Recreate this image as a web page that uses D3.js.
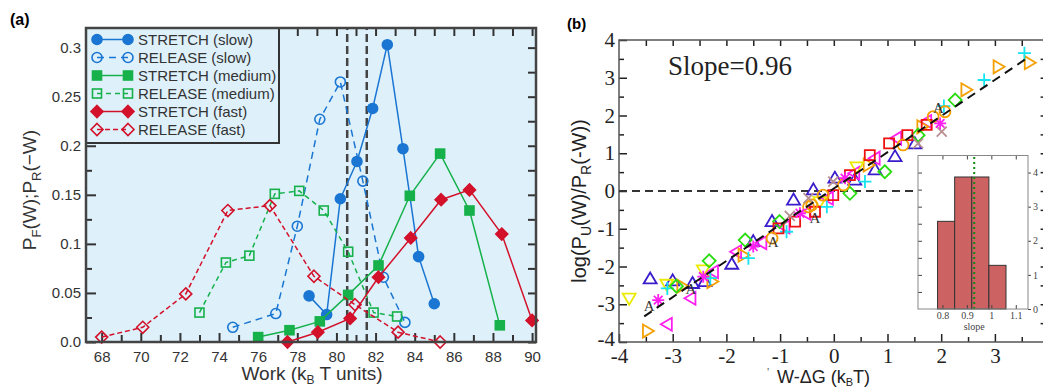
<!DOCTYPE html>
<html>
<head>
<meta charset="utf-8">
<script src="https://cdn.jsdelivr.net/npm/d3@7"></script>
<style>
  body { margin: 0; background: #fff; }
  svg { display: block; }
</style>
</head>
<body>
<script>
// ---------- panel (a): [work (kBT), probability]
const stretchSlow = [[78.6,0.047],[79.5,0.028],[80.2,0.146],[81.05,0.184],[81.85,0.238],[82.6,0.303],[83.4,0.197],[84.2,0.087],[85.0,0.039]];
const releaseSlow = [[74.7,0.015],[76.9,0.029],[78.0,0.118],[79.15,0.227],[80.2,0.265],[81.35,0.164],[82.4,0.066],[83.5,0.02]];
const stretchMedium = [[76.0,0.005],[77.6,0.012],[79.15,0.021],[80.6,0.048],[82.15,0.078],[83.75,0.149],[85.3,0.192],[86.8,0.134],[88.35,0.017]];
const releaseMedium = [[73.0,0.030],[74.35,0.081],[75.55,0.088],[76.85,0.151],[78.1,0.154],[79.35,0.134],[80.6,0.092],[81.9,0.030],[83.1,0.026]];
const stretchFast = [[77.5,0.0],[79.05,0.010],[80.7,0.024],[82.15,0.066],[83.8,0.106],[85.35,0.145],[86.8,0.155],[88.45,0.110],[90.0,0.022]];
const releaseFast = [[68.0,0.005],[70.1,0.015],[72.3,0.049],[74.45,0.134],[76.6,0.139],[78.85,0.067],[80.95,0.038],[83.15,0.010],[85.3,0.0]];
const legendNames = ['STRETCH (slow)','RELEASE (slow)','STRETCH (medium)','RELEASE (medium)','STRETCH (fast)','RELEASE (fast)'];
const dashedMarks = [80.55, 81.55];
const xTicksA = [68,70,72,74,76,78,80,82,84,86,88,90];
const yTicksA = [0,0.05,0.1,0.15,0.2,0.25,0.3];
const yLabelsA = ['0.0','0.05','0.1','0.15','0.2','0.25','0.3'];

// ---------- panel (b): [W-dG, log ratio]
const blueTri = [[-3.42,-2.33],[-3.0,-2.38],[-2.63,-2.45],[-2.4,-2.4],[-1.9,-1.94],[-1.5,-1.34],[-1.15,-0.81],[-0.75,-0.24],[-0.38,0.03],[0.02,0.34],[0.39,0.29],[0.77,0.56],[1.14,0.91],[1.51,1.25]];
const magentaLeft = [[-3.1,-3.53],[-2.66,-2.84],[-2.24,-2.14],[-1.81,-1.61],[-1.34,-1.37],[-0.91,-0.95],[-0.52,-0.59],[-0.1,-0.19],[0.39,0.47],[0.77,0.87],[1.17,1.4],[1.73,1.84]];
const orangeRight = [[-3.47,-3.71],[-2.83,-2.52],[-2.27,-2.4],[-1.69,-1.7],[0.64,0.69],[1.64,1.7],[2.46,2.68],[3.06,3.29],[3.64,3.4]];
const yellowDown = [[-3.81,-2.84],[-3.11,-2.47],[-2.43,-2.09],[-0.26,-0.28],[0.43,0.64]];
const cyanPlus = [[-3.1,-2.58],[-2.3,-2.31],[-1.59,-1.78],[-0.88,-1.08],[-0.13,-0.42],[0.58,0.25],[2.05,2.25],[2.8,2.94],[3.55,3.65]];
const magentaStar = [[-3.27,-2.89],[-2.43,-2.27],[-1.5,-1.47],[-0.63,-0.59],[0.21,0.34],[1.98,1.79]];
const greenDiamond = [[-2.93,-2.52],[-2.32,-1.85],[-1.65,-1.3],[-1.01,-0.81],[0.3,-0.06],[0.95,0.51],[1.57,1.48],[2.26,2.41]];
const redSquare = [[-1.03,-0.99],[-0.72,-0.81],[-0.35,-0.55],[-0.01,-0.11],[0.3,0.42],[0.67,0.95],[1.03,1.26],[1.37,1.48],[1.73,1.75]];
const orangeCircle = [[-1.15,-1.25],[-0.47,-0.42],[-0.41,-0.37],[-0.2,-0.11],[0.18,0.16],[1.29,1.22],[1.85,1.97],[2.07,2.1]];
const grayCross = [[-0.82,-0.66],[-0.47,-0.19],[-0.01,0.25],[1.57,1.26],[2.01,1.57]];
const letterA = [[-3.44,-3.05],[-2.66,-2.6],[-1.13,-1.34],[-0.35,-0.72],[1.95,2.19]];
const fitLine = [[-3.53,-3.32],[3.6,3.52]];
const xTicksB = [-4,-3,-2,-1,0,1,2,3];   // the "4" label falls outside the picture
const yTicksB = [-4,-3,-2,-1,0,1,2,3,4];

// inset histogram of slopes
const binEdges = [0.78,0.85,0.92,0.99,1.06];
const binHeights = [2.57,3.87,3.87,1.28];
const meanSlope = 0.93;
const insetXTicks = [0.8,0.9,1,1.1];
const insetYTicks = [0,1,2,3,4];

const svg = d3.select('body').append('svg')
  .attr('width', 1043).attr('height', 388);

const SANS = '"Liberation Sans", Arial, sans-serif';
const SERIF = '"Liberation Serif", "Times New Roman", serif';

function styleAxis(g, color, width, font, size) {
  g.select('.domain').remove();
  g.attr('font-family', font).attr('font-size', size);
  g.selectAll('line').attr('stroke', color).attr('stroke-width', width);
  g.selectAll('text').attr('fill', color);
}

// ================= panel (a)
const xA = d3.scaleLinear().domain([67.2, 90.2]).range([86, 536]);
const yA = d3.scaleLinear().domain([0, 0.32]).range([342, 28]);
const pa = svg.append('g');

pa.append('rect')
  .attr('x', 86).attr('y', 28).attr('width', 450).attr('height', 314)
  .attr('fill', '#def1fb');

pa.append('g').attr('transform', 'translate(0,342)')
  .call(d3.axisBottom(xA).tickValues(xTicksA).tickSize(-9).tickPadding(9))
  .call(g => styleAxis(g, '#333', 2, SANS, 15));
pa.append('g').attr('transform', 'translate(0,342)')
  .call(d3.axisBottom(xA).tickValues(d3.range(69, 90, 2)).tickSize(-7).tickFormat(''))
  .call(g => styleAxis(g, '#333', 2, SANS, 15));
pa.append('g').attr('transform', 'translate(0,28)')
  .call(d3.axisTop(xA).tickValues(d3.range(68, 91, 1)).tickSize(-8).tickFormat(''))
  .call(g => styleAxis(g, '#333', 2, SANS, 15));
pa.append('g').attr('transform', 'translate(86,0)')
  .call(d3.axisLeft(yA).tickValues(yTicksA).tickSize(-10).tickPadding(5)
    .tickFormat((d, i) => yLabelsA[i]))
  .call(g => styleAxis(g, '#333', 2, SANS, 15));
pa.append('g').attr('transform', 'translate(86,0)')
  .call(d3.axisLeft(yA).tickValues(d3.range(0.025, 0.32, 0.05)).tickSize(-6).tickFormat(''))
  .call(g => styleAxis(g, '#333', 2, SANS, 15));
pa.append('g').attr('transform', 'translate(536,0)')
  .call(d3.axisRight(yA).tickValues(d3.range(0, 0.32, 0.025)).tickSize(-8).tickFormat(''))
  .call(g => styleAxis(g, '#333', 2, SANS, 15));

// vertical dashed markers
pa.selectAll('line.vmark').data(dashedMarks).join('line')
  .attr('x1', d => xA(d)).attr('x2', d => xA(d))
  .attr('y1', yA(0)).attr('y2', yA(0.32))
  .attr('stroke', '#444').attr('stroke-width', 2.5).attr('stroke-dasharray', '8,4');

const BLUE = '#1a76d2', GREEN = '#16b14a', RED = '#d3112a';
const seriesA = [
  { data: stretchSlow, color: BLUE, shape: 'circle', filled: true, dash: null },
  { data: releaseSlow, color: BLUE, shape: 'circle', filled: false, dash: '7,5' },
  { data: stretchMedium, color: GREEN, shape: 'square', filled: true, dash: null },
  { data: releaseMedium, color: GREEN, shape: 'square', filled: false, dash: '5,4' },
  { data: stretchFast, color: RED, shape: 'diamond', filled: true, dash: null },
  { data: releaseFast, color: RED, shape: 'diamond', filled: false, dash: '5,3' }
];

function markA(sel, s) {
  let m;
  if (s.shape === 'circle') m = sel.append('circle').attr('r', 5);
  else if (s.shape === 'square') m = sel.append('rect').attr('x', -4.5).attr('y', -4.5).attr('width', 9).attr('height', 9);
  else m = sel.append('path').attr('d', 'M0,-6L6,0L0,6L-6,0Z');
  m.attr('fill', s.filled ? s.color : 'none').attr('stroke', s.color).attr('stroke-width', 1.6);
}

const lineA = d3.line().x(d => xA(d[0])).y(d => yA(d[1]));
seriesA.forEach(s => {
  pa.append('path').datum(s.data)
    .attr('d', lineA).attr('fill', 'none')
    .attr('stroke', s.color).attr('stroke-width', 1.5)
    .attr('stroke-dasharray', s.dash);
  pa.append('g').selectAll('g').data(s.data).join('g')
    .attr('transform', d => `translate(${xA(d[0])},${yA(d[1])})`)
    .each(function () { markA(d3.select(this), s); });
});

// legend
const lg = pa.append('g');
lg.append('rect').attr('x', 86).attr('y', 28).attr('width', 193).attr('height', 115)
  .attr('fill', '#def1fb').attr('stroke', '#333').attr('stroke-width', 2);
seriesA.forEach((s, i) => {
  const y = 39.5 + i * 18;
  lg.append('line').attr('x1', 97).attr('x2', 128).attr('y1', y).attr('y2', y)
    .attr('stroke', s.color).attr('stroke-width', 1.5).attr('stroke-dasharray', s.dash);
  [97, 128].forEach(x => markA(lg.append('g').attr('transform', `translate(${x},${y})`), s));
  lg.append('text').attr('x', 138).attr('y', y + 5.5)
    .attr('font-family', SANS).attr('font-size', 15).attr('fill', '#333')
    .text(legendNames[i]);
});

// frame
pa.append('rect').attr('x', 86).attr('y', 28).attr('width', 450).attr('height', 314)
  .attr('fill', 'none').attr('stroke', '#444').attr('stroke-width', 2.5);

pa.append('text').attr('x', 10).attr('y', 25)
  .attr('font-family', SANS).attr('font-size', 16).attr('font-weight', 'bold').text('(a)');

const xlA = pa.append('text').attr('x', 312).attr('y', 380).attr('text-anchor', 'middle')
  .attr('font-family', SANS).attr('font-size', 19).attr('fill', '#333');
xlA.append('tspan').text('Work (k');
xlA.append('tspan').attr('font-size', 12).attr('dy', 4).text('B');
xlA.append('tspan').attr('dy', -4).text(' T units)');

const ylA = pa.append('text').attr('transform', 'translate(36,190) rotate(-90)')
  .attr('text-anchor', 'middle')
  .attr('font-family', SANS).attr('font-size', 19).attr('fill', '#333');
ylA.append('tspan').text('P');
ylA.append('tspan').attr('font-size', 13).attr('dy', 5).text('F');
ylA.append('tspan').attr('dy', -5).text('(W);P');
ylA.append('tspan').attr('font-size', 13).attr('dy', 5).text('R');
ylA.append('tspan').attr('dy', -5).text('(\u2212W)');

// ================= panel (b)
const xB = d3.scaleLinear().domain([-4, 4]).range([619, 1048.6]);
const yB = d3.scaleLinear().domain([-4, 4]).range([342, 40]);
const pb = svg.append('g');

const fmtB = d => String(d);
pb.append('g').attr('transform', 'translate(0,342)')
  .call(d3.axisBottom(xB).tickValues(xTicksB).tickSize(-8).tickPadding(6).tickFormat(fmtB))
  .call(g => styleAxis(g, '#222', 1.5, SERIF, 21));
pb.append('g').attr('transform', 'translate(0,342)')
  .call(d3.axisBottom(xB).tickValues(d3.range(-3.5, 4, 1)).tickSize(-5).tickFormat(''))
  .call(g => styleAxis(g, '#222', 1.5, SERIF, 21));
pb.append('g').attr('transform', 'translate(0,40)')
  .call(d3.axisTop(xB).tickValues(d3.range(-3.5, 4, 0.5)).tickSize(-6).tickFormat(''))
  .call(g => styleAxis(g, '#222', 1.5, SERIF, 21));
pb.append('g').attr('transform', 'translate(619,0)')
  .call(d3.axisLeft(yB).tickValues(yTicksB).tickSize(-8).tickPadding(4).tickFormat(fmtB))
  .call(g => styleAxis(g, '#222', 1.5, SERIF, 21))
  .call(g => g.selectAll('text').filter(d => d === -4).attr('dy', '0.15em'));
pb.append('g').attr('transform', 'translate(619,0)')
  .call(d3.axisLeft(yB).tickValues(d3.range(-3.5, 4, 1)).tickSize(-5).tickFormat(''))
  .call(g => styleAxis(g, '#222', 1.5, SERIF, 21));
pb.append('g').attr('transform', 'translate(1048.6,0)')
  .call(d3.axisRight(yB).tickValues(d3.range(-3.5, 4, 0.5)).tickSize(-8).tickFormat(''))
  .call(g => styleAxis(g, '#222', 1.5, SERIF, 21));

pb.append('rect').attr('x', 619).attr('y', 40).attr('width', 429.6).attr('height', 302)
  .attr('fill', 'none').attr('stroke', '#555').attr('stroke-width', 1.5);

// inset scales (needed for zero line end)
const ix = d3.scaleLinear().domain([0.7, 1.15]).range([918, 1028]);
const iy = d3.scaleLinear().domain([0, 4.5]).range([309, 155.5]);

// zero line
pb.append('line').attr('x1', xB(-4)).attr('x2', ix.range()[0])
  .attr('y1', yB(0)).attr('y2', yB(0))
  .attr('stroke', '#333').attr('stroke-width', 2).attr('stroke-dasharray', '8,5');

const sym = {
  triUp: 'M0,-6.5L6.5,4.5L-6.5,4.5Z',
  square: 'M-5,-5H5V5H-5Z',
  diamond: 'M0,-6.5L6.5,0L0,6.5L-6.5,0Z',
  plus: 'M-6.5,0H6.5M0,-6.5V6.5',
  cross: 'M-5,-5L5,5M5,-5L-5,5',
  star: 'M-6,0H6M0,-6V6M-4.3,-4.3L4.3,4.3M4.3,-4.3L-4.3,4.3'
};
const seriesB = [
  { data: blueTri, color: '#3a1ccc', path: sym.triUp, rot: 0 },
  { data: magentaLeft, color: '#ff1ff0', path: sym.triUp, rot: -90 },
  { data: orangeRight, color: '#f4a000', path: sym.triUp, rot: 90 },
  { data: yellowDown, color: '#eaea00', path: sym.triUp, rot: 180 },
  { data: cyanPlus, color: '#14e4f0', path: sym.plus, rot: 0 },
  { data: greenDiamond, color: '#28dd10', path: sym.diamond, rot: 0 },
  { data: redSquare, color: '#ee1111', path: sym.square, rot: 0 },
  { data: orangeCircle, color: '#f4a000', path: 'circle', rot: 0 },
  { data: grayCross, color: '#b88e90', path: sym.cross, rot: 0 },
  { data: magentaStar, color: '#ff1ff0', path: sym.star, rot: 0 }
];
seriesB.forEach(s => {
  const g = pb.append('g').selectAll('g').data(s.data).join('g')
    .attr('transform', d => `translate(${xB(d[0])},${yB(d[1])}) rotate(${s.rot})`);
  const m = s.path === 'circle' ? g.append('circle').attr('r', 5.5) : g.append('path').attr('d', s.path);
  m.attr('fill', 'none').attr('stroke', s.color).attr('stroke-width', 1.8);
});
pb.append('g').selectAll('text').data(letterA).join('text')
  .attr('x', d => xB(d[0])).attr('y', d => yB(d[1]) + 5)
  .attr('text-anchor', 'middle').attr('font-family', SERIF).attr('font-size', 15)
  .attr('fill', '#333').text('A');

pb.append('path').datum(fitLine)
  .attr('d', d3.line().x(d => xB(d[0])).y(d => yB(d[1])))
  .attr('stroke', '#111').attr('stroke-width', 2).attr('stroke-dasharray', '9,6').attr('fill', 'none');

pb.append('text').attr('x', 668).attr('y', 75)
  .attr('font-family', SERIF).attr('font-size', 27).attr('fill', '#222').text('Slope=0.96');
pb.append('text').attr('x', 567).attr('y', 29)
  .attr('font-family', SANS).attr('font-size', 15).attr('font-weight', 'bold').text('(b)');

const xlB = pb.append('text').attr('x', 777).attr('y', 383)
  .attr('font-family', SANS).attr('font-size', 18).attr('fill', '#222');
xlB.append('tspan').text('W-\u0394G (k');
xlB.append('tspan').attr('font-size', 11).attr('dy', 3).text('B');
xlB.append('tspan').attr('dy', -3).text('T)');
pb.append('text').attr('x', 767).attr('y', 376).attr('font-family', SANS)
  .attr('font-size', 10).attr('fill', '#444').text('\u02bc');

const ylB = pb.append('text').attr('transform', 'translate(586,201) rotate(-90)')
  .attr('text-anchor', 'middle')
  .attr('font-family', SANS).attr('font-size', 20).attr('fill', '#222');
ylB.append('tspan').text('log(P');
ylB.append('tspan').attr('font-size', 14).attr('dy', 5).text('U');
ylB.append('tspan').attr('dy', -5).text('(W)/P');
ylB.append('tspan').attr('font-size', 14).attr('dy', 5).text('R');
ylB.append('tspan').attr('dy', -5).text('(-W))');

// ---------- inset
const ins = pb.append('g');
ins.append('rect').attr('x', 918).attr('y', 155.5).attr('width', 110).attr('height', 153.5)
  .attr('fill', '#fff');
ins.selectAll('rect.bar').data(binHeights).join('rect').attr('class', 'bar')
  .attr('x', (d, i) => ix(binEdges[i]))
  .attr('width', (d, i) => ix(binEdges[i + 1]) - ix(binEdges[i]))
  .attr('y', d => iy(d)).attr('height', d => iy(0) - iy(d))
  .attr('fill', '#cd6262').attr('stroke', '#333').attr('stroke-width', 1);
ins.append('line').attr('x1', ix(meanSlope)).attr('x2', ix(meanSlope))
  .attr('y1', iy(0)).attr('y2', iy(4.5))
  .attr('stroke', '#138a13').attr('stroke-width', 2).attr('stroke-dasharray', '2,3');

ins.append('g').attr('transform', 'translate(0,309)')
  .call(d3.axisBottom(ix).tickValues(insetXTicks).tickSize(-4).tickPadding(3).tickFormat(d => String(d)))
  .call(g => styleAxis(g, '#444', 1, SERIF, 10));
ins.append('g').attr('transform', 'translate(0,155.5)')
  .call(d3.axisTop(ix).tickValues(insetXTicks).tickSize(-4).tickFormat(''))
  .call(g => styleAxis(g, '#444', 1, SERIF, 10));
ins.append('g').attr('transform', 'translate(918,0)')
  .call(d3.axisLeft(iy).tickValues(d3.range(0.5, 4.5, 0.5)).tickSize(-4).tickFormat(''))
  .call(g => styleAxis(g, '#444', 1, SERIF, 10));
ins.append('g').attr('transform', 'translate(1028,0)')
  .call(d3.axisRight(iy).tickValues(insetYTicks).tickSize(3).tickPadding(2).tickFormat(d => String(d)))
  .call(g => styleAxis(g, '#444', 1, SERIF, 10));
ins.append('rect').attr('x', 918).attr('y', 155.5).attr('width', 110).attr('height', 153.5)
  .attr('fill', 'none').attr('stroke', '#888').attr('stroke-width', 1);
ins.append('text').attr('x', ix(0.93)).attr('y', 330).attr('text-anchor', 'middle')
  .attr('font-family', SERIF).attr('font-size', 10).attr('fill', '#444').text('slope');
</script>
</body>
</html>
